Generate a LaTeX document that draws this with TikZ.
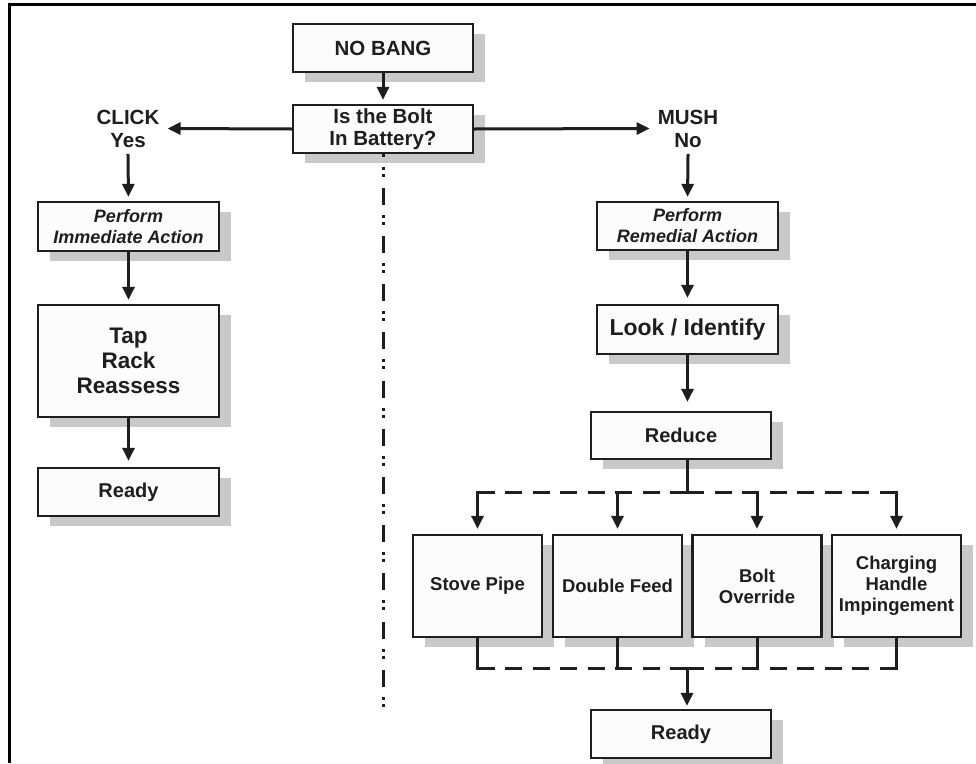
\documentclass[tikz,border=0pt]{standalone}
\usepackage{fontspec}
\setmainfont{Liberation Sans}
\usetikzlibrary{arrows.meta,shadows,calc}
\definecolor{linec}{HTML}{1E1E1E}
\definecolor{shadc}{HTML}{C9C9C9}
\definecolor{boxf}{HTML}{FCFCFC}
\newcommand\setfs[2]{\fontsize{#1}{#2}\selectfont\bfseries}
\begin{document}
\begin{tikzpicture}[x=1pt,y=-1pt,
  box/.style={draw=linec,line width=2.3pt,fill=boxf,inner sep=0pt,align=center,text=linec,
    drop shadow={shadow xshift=12pt,shadow yshift=-10pt,fill=shadc,opacity=1}},
  lbl/.style={inner xsep=8pt,inner ysep=8pt,align=center,text=linec},
  arr/.style={draw=linec,line width=3pt,line cap=rect,-{Triangle[length=13pt,width=12pt]},shorten >=4pt},
  conn/.style={draw=linec,line width=3pt,line cap=rect},
  dline/.style={draw=linec,line width=3pt,dash pattern=on 17pt off 10.5pt},
  ddline/.style={draw=linec,line width=3pt,dash pattern=on 17pt off 10pt on 3pt off 4pt on 3pt off 11.2pt,dash phase=14.5pt},
  small/.style={box,minimum width=129pt,minimum height=102pt,font=\setfs{18.5}{21}}
]
\useasboundingbox (0,0) rectangle (976,763);
\fill[white] (0,0) rectangle (976,763);
\draw[line width=3.5pt,line join=miter] (9.5,763) -- (9.5,4.5) -- (976,4.5);

% top
\node[box,minimum width=180pt,minimum height=48pt,font=\setfs{20.5}{22}] (nobang) at (383,48) {NO BANG};
\node[box,minimum width=180pt,minimum height=48pt,font=\setfs{20.5}{22}] (dec) at (383,129) {Is the Bolt\\In Battery?};
\node[lbl,font=\setfs{20.5}{23}] (click) at (128,128.5) {CLICK\\Yes};
\node[lbl,font=\setfs{20.5}{23}] (mush) at (688,128.5) {MUSH\\No};

% left column
\node[box,minimum width=181pt,minimum height=49pt,font=\setfs{18}{21}\itshape] (perf1) at (128.5,226.5) {Perform\\Immediate Action};
\node[box,minimum width=181pt,minimum height=112pt,font=\setfs{22.5}{25}] (tap) at (128.5,361) {Tap\\Rack\\Reassess};
\node[box,minimum width=181pt,minimum height=48pt,font=\setfs{20}{24}] (readyL) at (128.5,492) {Ready};

% right column
\node[box,minimum width=181pt,minimum height=48pt,font=\setfs{18}{21}\itshape] (perf2) at (687.5,226) {Perform\\Remedial Action};
\node[box,minimum width=181pt,minimum height=49pt,font=\setfs{23}{26}] (look) at (687.5,329.5) {Look / Identify};
\node[box,minimum width=180pt,minimum height=47pt,font=\setfs{20}{24}] (reduce) at (681,435.5) {Reduce};

\node[small] (sp) at (477.5,586) {Stove Pipe};
\node[small] (df) at (617.5,586) {Double Feed};
\node[small] (bo) at (757,586) {Bolt\\Override};
\node[small] (ch) at (896.5,586) {Charging\\Handle\\Impingement};

\node[box,minimum width=180pt,minimum height=48pt,font=\setfs{20}{24}] (readyB) at (681,734) {Ready};

\coordinate (jt) at (687,492);
\coordinate (jb) at (687,668);
\coordinate (vend) at (383,708);

% connectors
\draw[ddline] (dec.south) -- (vend);
\draw[arr] (nobang) -- (dec);
\draw[arr,shorten >=0pt] (dec.west) -- (click.east);
\draw[arr,shorten >=0pt] (dec.east) -- (mush.west);
\draw[arr] (click.south) -- (perf1.north);
\draw[arr] (perf1) -- (tap);
\draw[arr,shorten >=6pt] (tap) -- (readyL);
\draw[arr] (mush.south) -- (perf2.north);
\draw[arr,shorten >=6pt] (perf2) -- (look);
\draw[arr,shorten >=9pt] (look.south) -- (look.south |- reduce.north);

\draw[conn] (jt |- reduce.south) -- (jt);
\draw[dline] (jt) -- (jt -| sp);
\draw[dline] (jt) -- (jt -| ch);
\foreach \b in {sp,df,bo,ch}{
  \draw[arr,shorten >=5pt] (jt -| \b.north) -- (\b.north);
  \draw[conn] (\b.south) -- (\b.south |- jb);
}
\draw[dline] (jb) -- (jb -| sp);
\draw[dline] (jb) -- (jb -| ch);
\draw[arr,shorten >=3pt] (jb) -- (jb |- readyB.north);
\end{tikzpicture}
\end{document}
